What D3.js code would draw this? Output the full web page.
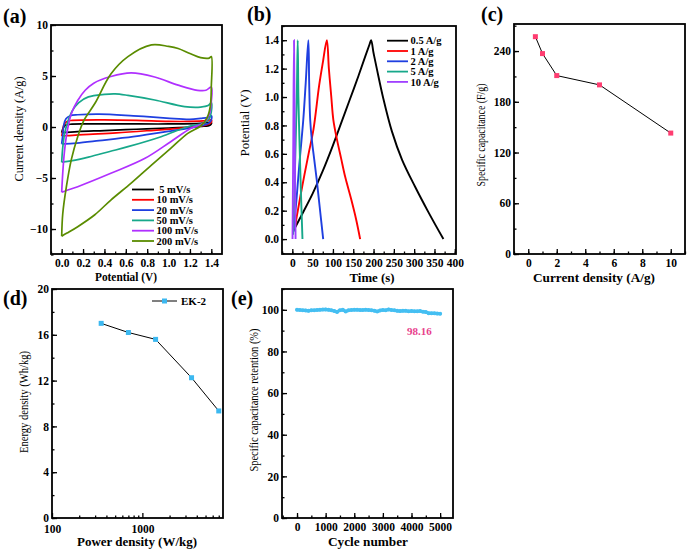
<!DOCTYPE html>
<html><head><meta charset="utf-8">
<script src="https://cdn.jsdelivr.net/npm/d3@7"></script>
<style>
body{margin:0;background:#fff;}
svg text{font-family:"Liberation Serif","Times New Roman",serif;fill:#000;}
</style></head><body>
<svg id="c" width="689" height="550"></svg>
<script>
// ---------- DATA ----------
// (a) CV loops [potential V, current density A/g]
const cvRates = ["\u00a05 mV/s","10 mV/s","20 mV/s","50 mV/s","100 mV/s","200 mV/s"];
const cv5 = [[0,-0.55],[0.01,-0.2],[0.03,0.15],[0.08,0.27],[0.3,0.3],[0.7,0.3],[1.0,0.3],[1.3,0.35],[1.4,0.45],[1.39,0.2],[1.3,0.05],[1.0,-0.1],[0.7,-0.22],[0.4,-0.35],[0.15,-0.45],[0,-0.55]];
const cv10 = [[0,-0.88],[0.01,-0.4],[0.02,0.2],[0.05,0.55],[0.1,0.65],[0.4,0.7],[0.7,0.65],[1.0,0.55],[1.2,0.55],[1.35,0.62],[1.4,0.7],[1.4,0.45],[1.37,0.25],[1.2,-0.03],[0.82,-0.35],[0.51,-0.58],[0.2,-0.74],[0.05,-0.85],[0,-0.88]];
const cv20 = [[0,-1.65],[0.01,-0.8],[0.02,0.2],[0.04,0.8],[0.08,1.1],[0.15,1.2],[0.35,1.27],[0.67,1.1],[0.98,0.88],[1.2,0.75],[1.3,0.85],[1.37,0.95],[1.4,1.1],[1.4,0.7],[1.38,0.4],[1.3,0.1],[0.98,-0.46],[0.67,-0.95],[0.35,-1.34],[0.14,-1.58],[0.03,-1.65],[0,-1.65]];
const cv50 = [[0,-3.45],[0.01,-2.0],[0.03,-0.5],[0.06,0.6],[0.1,1.6],[0.16,2.4],[0.25,2.95],[0.4,3.2],[0.5,3.25],[0.62,3.1],[0.87,2.65],[1.15,2.0],[1.3,1.95],[1.37,2.1],[1.4,2.4],[1.4,1.5],[1.38,0.8],[1.32,0.35],[1.18,0.03],[0.93,-0.95],[0.62,-1.93],[0.45,-2.4],[0.25,-2.95],[0.1,-3.3],[0,-3.45]];
const cv100 = [[0,-6.4],[0.01,-4.5],[0.025,-2.5],[0.05,-0.5],[0.09,1.3],[0.15,2.6],[0.22,3.6],[0.3,4.3],[0.46,4.95],[0.65,5.3],[0.87,4.9],[1.09,4.1],[1.27,3.6],[1.35,3.6],[1.4,3.9],[1.4,2.5],[1.38,1.2],[1.33,0.4],[1.21,-0.13],[1.02,-1.44],[0.78,-3.07],[0.46,-4.54],[0.15,-5.85],[0.05,-6.2],[0,-6.4]];
const cv200 = [[0,-10.7],[0.01,-8.5],[0.044,-5.85],[0.09,-3.2],[0.15,-0.95],[0.21,0.69],[0.31,2.3],[0.46,5.2],[0.62,6.9],[0.84,8.05],[1.0,7.9],[1.09,7.7],[1.2,7.2],[1.3,6.8],[1.38,6.75],[1.4,6.9],[1.4,4.0],[1.39,2.0],[1.36,0.9],[1.3,0.1],[1.18,-0.62],[1.02,-2.1],[0.84,-3.73],[0.65,-5.5],[0.46,-7.16],[0.31,-8.6],[0.15,-9.77],[0.05,-10.4],[0,-10.7]];
const cvColors = ["#000000","#ff0000","#1f3fe0","#17a88a","#b030ff","#5a8c00"];
const aXTicks = [0,0.2,0.4,0.6,0.8,1.0,1.2,1.4];
const aYTicks = [-10,-5,0,5,10];

// (b) GCD curves [time s, potential V]
const gcdLabels = ["0.5 A/g","1 A/g","2 A/g","5 A/g","10 A/g"];
const gcd05 = [[3,0.06],[25,0.18],[50,0.32],[75,0.48],[100,0.66],[122,0.83],[140,0.97],[163,1.15],[180,1.29],[190,1.37],[194,1.4],[200,1.31],[208,1.2],[224,0.99],[245,0.76],[270,0.56],[302,0.37],[335,0.19],[372,0]];
const gcd1 = [[6,0.07],[11,0.16],[25,0.38],[40,0.6],[52,0.77],[66,1.08],[75,1.24],[85,1.4],[90,1.2],[96,1.0],[101,0.84],[110,0.7],[120,0.57],[130,0.44],[145,0.28],[157,0.14],[167,0]];
const gcd2 = [[3,0.05],[10,0.27],[18,0.55],[27,0.84],[33,1.1],[39.5,1.4],[41.5,1.1],[44,0.84],[48,0.7],[54,0.56],[60,0.42],[68,0.21],[76,0]];
const gcd5 = [[2,0.03],[5,0.32],[8,0.65],[11,1.0],[13.3,1.4],[15,1.0],[17.5,0.7],[21,0.35],[25,0]];
const gcd10 = [[0.5,0],[2.4,0.7],[4.2,1.4],[6,0.7],[8,0]];
const gcdColors = ["#000000","#ff0000","#1f3fe0","#17a88a","#a040ff"];
const bXTicks = [0,50,100,150,200,250,300,350,400];
const bYTicks = [0,0.2,0.4,0.6,0.8,1.0,1.2,1.4];

// (c) rate capability
const currentDensity = [0.5,1,2,5,10];
const specCap = [257,237,211,200,143];
const cXTicks = [0,2,4,6,8,10];
const cYTicks = [0,60,120,180,240];

// (d) Ragone
const powerDensity = [350,700,1400,3500,7000];
const energyDensity = [17.0,16.2,15.6,12.25,9.35];
const dXTicks = [100,1000];
const dYTicks = [0,4,8,12,16,20];

// (e) cycling
const cycles = [0,100,200,300,400,500,600,700,800,900,1000,1100,1200,1300,1400,1500,1600,1700,1800,1900,2000,2100,2200,2300,2400,2500,2600,2700,2800,2900,3000,3100,3200,3300,3400,3500,3600,3700,3800,3900,4000,4100,4200,4300,4400,4500,4600,4700,4800,4900,5000];
const retention = [100.0,99.9,99.8,99.7,99.5,99.8,99.8,99.9,100.0,100.1,100.2,100.0,99.8,99.4,99.0,99.8,100.0,99.2,99.8,99.9,100.0,100.0,99.9,99.9,100.0,99.9,99.8,99.6,99.2,99.7,99.9,99.8,100.2,99.9,99.8,99.5,99.4,99.5,99.5,99.3,99.4,99.3,99.3,99.4,99.1,98.9,98.4,98.3,98.3,98.2,98.16];
const eXTicks = [0,1000,2000,3000,4000,5000];
const eYTicks = [0,20,40,60,80,100];
const finalRetention = "98.16";

// ---------- DRAW ----------
const svg = d3.select("#c");

function panel(o){
  const g = svg.append("g");
  const [l,t,r,b] = o.box;
  const style = s => {
    s.select(".domain").remove();
    s.attr("font-family",null).attr("font-size",null);
    s.selectAll("line").attr("stroke","#000").attr("stroke-width",1.3);
    s.selectAll("text").attr("font-size","11.5px").attr("font-weight","bold").attr("fill","#000");
  };
  g.append("g").attr("transform",`translate(0,${b})`)
    .call(d3.axisBottom(o.x).tickValues(o.xMinor).tickSize(-2.5).tickFormat("")).call(style);
  g.append("g").attr("transform",`translate(0,${b})`)
    .call(d3.axisBottom(o.x).tickValues(o.xTicks).tickSize(-5).tickPadding(o.xPad||5).tickFormat(o.xFmt)).call(style);
  g.append("g").attr("transform",`translate(${l},0)`)
    .call(d3.axisLeft(o.y).tickValues(o.yMinor).tickSize(-2.5).tickFormat("")).call(style);
  g.append("g").attr("transform",`translate(${l},0)`)
    .call(d3.axisLeft(o.y).tickValues(o.yTicks).tickSize(-5).tickPadding(3).tickFormat(o.yFmt)).call(style);
  g.append("rect").attr("x",l).attr("y",t).attr("width",r-l).attr("height",b-t)
    .attr("fill","none").attr("stroke","#000").attr("stroke-width",1.8);
  // titles
  g.append("text").attr("x",o.xt[0]).attr("y",o.xt[1]).attr("text-anchor","middle")
    .attr("font-size","12px").attr("font-weight","bold")
    .attr("textLength",o.xt[2]).attr("lengthAdjust","spacingAndGlyphs").text(o.xTitle);
  g.append("text").attr("transform",`translate(${o.yt[0]},${o.yt[1]}) rotate(-90)`)
    .attr("text-anchor","middle").attr("dominant-baseline","central")
    .attr("font-size","13px")
    .attr("textLength",o.yt[2]).attr("lengthAdjust","spacingAndGlyphs").text(o.yTitle);
  g.append("text").attr("x",o.lab[0]).attr("y",o.lab[1]).attr("font-size","20px")
    .attr("font-weight","bold").text(o.label);
  const clip = "clip"+o.label.replace(/\W/g,"");
  svg.append("clipPath").attr("id",clip).append("rect").attr("x",l).attr("y",t).attr("width",r-l).attr("height",b-t);
  return g.append("g").attr("clip-path",`url(#${clip})`);
}
const fmt1 = d3.format(".1f");
const fmtD = d3.format("d");

// (a)
{
  const x = d3.scaleLinear().domain([-0.1,1.5]).range([51,222]);
  const y = d3.scaleLinear().domain([-12.45,10]).range([254,25]);
  const p = panel({box:[51,25,222,254],x,y,xTicks:aXTicks,xMinor:d3.range(-0.1,1.5,0.1).map(v=>+v.toFixed(2)),
    yTicks:aYTicks,yMinor:d3.range(-12.5,10.1,2.5),xFmt:fmt1,yFmt:fmtD,
    xTitle:"Potential (V)",xt:[126,281,62],yTitle:"Current density (A/g)",yt:[18,129,105],label:"(a)",lab:[3,23]});
  const line = d3.line().x(d=>x(d[0])).y(d=>y(d[1])).curve(d3.curveCatmullRom.alpha(0.5));
  [cv5,cv10,cv20,cv50,cv100,cv200].forEach((s,i)=>{
    p.append("path").attr("d",line(s)).attr("fill","none").attr("stroke",cvColors[i]).attr("stroke-width",1.7);
  });
  const lg = svg.append("g");
  cvRates.forEach((t,i)=>{
    const yy = 189.5 + i*10.3;
    lg.append("line").attr("x1",132).attr("x2",154).attr("y1",yy).attr("y2",yy).attr("stroke",cvColors[i]).attr("stroke-width",1.8);
    lg.append("text").attr("x",156.5).attr("y",yy+3.6).attr("font-size","10.5px").attr("font-weight","bold").text(t);
  });
}
// (b)
{
  const x = d3.scaleLinear().domain([-25.4,403]).range([282,456]);
  const y = d3.scaleLinear().domain([-0.105,1.5]).range([254,26]);
  const p = panel({box:[282,26,456,254],x,y,xTicks:bXTicks,xMinor:d3.range(-25,405,25),
    yTicks:bYTicks,yMinor:d3.range(-0.1,1.51,0.1).map(v=>+v.toFixed(2)),xFmt:fmtD,yFmt:fmt1,
    xTitle:"Time (s)",xt:[372,282,45],yTitle:"Potential (V)",yt:[244,123,67],label:"(b)",lab:[247,21]});
  const line = d3.line().x(d=>x(d[0])).y(d=>y(d[1])).curve(d3.curveCatmullRom.alpha(0.5));
  [gcd05,gcd1,gcd2,gcd5,gcd10].forEach((s,i)=>{
    p.append("path").attr("d",line(s)).attr("fill","none").attr("stroke",gcdColors[i]).attr("stroke-width",1.9);
  });
  const lg = svg.append("g");
  gcdLabels.forEach((t,i)=>{
    const yy = 40.7 + i*10.3;
    lg.append("line").attr("x1",387).attr("x2",408).attr("y1",yy).attr("y2",yy).attr("stroke",gcdColors[i]).attr("stroke-width",1.8);
    lg.append("text").attr("x",410.5).attr("y",yy+3.6).attr("font-size","10.5px").attr("font-weight","bold").text(t);
  });
}
// (c)
{
  const x = d3.scaleLinear().domain([-1,11]).range([514,685]);
  const y = d3.scaleLinear().domain([0,272]).range([254,24]);
  const p = panel({box:[514,24,685,254],x,y,xTicks:cXTicks,xMinor:d3.range(-1,11.1,1),
    yTicks:cYTicks,yMinor:d3.range(0,272,30),xFmt:fmtD,yFmt:fmtD,
    xTitle:"Current density (A/g)",xt:[594,282,122],yTitle:"Specific capacitance (F/g)",yt:[480,135,103],label:"(c)",lab:[481,21]});
  const pts = currentDensity.map((c,i)=>[c,specCap[i]]);
  p.append("path").attr("d",d3.line().x(d=>x(d[0])).y(d=>y(d[1]))(pts)).attr("fill","none").attr("stroke","#000").attr("stroke-width",1);
  p.selectAll("rect.m").data(pts).join("rect").attr("x",d=>x(d[0])-2.5).attr("y",d=>y(d[1])-2.5)
    .attr("width",5).attr("height",5).attr("fill","#ff3d71");
}
// (d)
{
  const x = d3.scaleLog().domain([100,7800]).range([52,223]);
  const y = d3.scaleLinear().domain([0,20]).range([518,289]);
  const minor = [200,300,400,500,600,700,800,900,2000,3000,4000,5000,6000,7000];
  const p = panel({box:[52,289,223,518],x,y,xTicks:dXTicks,xMinor:minor,xPad:7,
    yTicks:dYTicks,yMinor:d3.range(0,20.1,2),xFmt:fmtD,yFmt:fmtD,
    xTitle:"Power density (W/kg)",xt:[137,546,120],yTitle:"Energy density (Wh/kg)",yt:[23,402,102],label:"(d)",lab:[3,305]});
  const pts = powerDensity.map((c,i)=>[c,energyDensity[i]]);
  p.append("path").attr("d",d3.line().x(d=>x(d[0])).y(d=>y(d[1]))(pts)).attr("fill","none").attr("stroke","#000").attr("stroke-width",1);
  p.selectAll("rect.m").data(pts).join("rect").attr("x",d=>x(d[0])-2.5).attr("y",d=>y(d[1])-2.5)
    .attr("width",5).attr("height",5).attr("fill","#3cb8f0");
  svg.append("line").attr("x1",152).attr("x2",177).attr("y1",301).attr("y2",301).attr("stroke","#000").attr("stroke-width",1);
  svg.append("rect").attr("x",162).attr("y",298.5).attr("width",5).attr("height",5).attr("fill","#3cb8f0");
  svg.append("text").attr("x",181).attr("y",305).attr("font-size","11px").attr("font-weight","bold").text("EK-2");
}
// (e)
{
  const x = d3.scaleLinear().domain([-525,5450]).range([282,453]);
  const y = d3.scaleLinear().domain([0,110]).range([518,289]);
  const p = panel({box:[282,289,453,518],x,y,xTicks:eXTicks,xMinor:d3.range(-500,5451,500),
    yTicks:eYTicks,yMinor:d3.range(0,110.1,10),xFmt:fmtD,yFmt:fmtD,
    xTitle:"Cycle number",xt:[368,546,80],yTitle:"Specific capacitance retention (%)",yt:[253,400,143],label:"(e)",lab:[231,305]});
  const pts = cycles.map((c,i)=>[c,retention[i]]);
  p.append("path").attr("d",d3.line().x(d=>x(d[0])).y(d=>y(d[1]))(pts)).attr("fill","none").attr("stroke","#45bff2").attr("stroke-width",3.2).attr("stroke-linejoin","round").attr("stroke-linecap","round");
  p.selectAll("circle").data(pts).join("circle").attr("cx",d=>x(d[0])).attr("cy",d=>y(d[1])).attr("r",2).attr("fill","#45bff2");
  svg.append("text").attr("x",x(4273)).attr("y",y(87.7)).attr("text-anchor","middle").attr("font-size","11px").attr("font-weight","bold")
    .style("fill","#e8408c").text(finalRetention);
}
</script></body></html>
